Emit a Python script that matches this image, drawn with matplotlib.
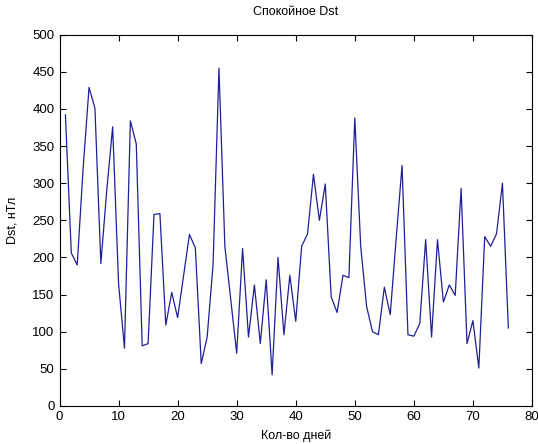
import numpy as np
import matplotlib
matplotlib.use("Agg")
import matplotlib.pyplot as plt

# Номера дней и значения спокойного Dst (нТл)
days = np.arange(1, 77)
dst = [392, 206, 190, 320, 429, 401, 192, 290, 376, 165,
       78, 384, 353, 81, 84, 258, 259, 109, 153, 119,
       175, 231, 213, 57, 93, 190, 455, 215, 143, 71,
       212, 93, 163, 84, 170, 42, 200, 96, 176, 114,
       215, 232, 312, 250, 299, 147, 126, 176, 173, 388,
       215, 134, 100, 96, 160, 123, 225, 324, 96, 94,
       111, 224, 93, 224, 140, 163, 149, 293, 84, 115,
       51, 228, 215, 232, 300, 105]

x_ticks = np.arange(0, 81, 10)
y_ticks = np.arange(0, 501, 50)

plt.rcParams['font.family'] = ['Liberation Sans', 'DejaVu Sans']

fig = plt.figure(figsize=(5.38, 4.44), dpi=100)
ax = fig.add_axes([0.1106, 0.0856, 0.8782, 0.8362])

ax.plot(days, dst, color=(0.12, 0.12, 0.6), linewidth=0.9)

ax.set_xlim(0, 80)
ax.set_ylim(0, 500)
ax.set_xticks(x_ticks)
ax.set_yticks(y_ticks)
ax.tick_params(direction='in', top=True, right=True, labelsize=9.5, length=4, width=0.8)
for s in ax.spines.values():
    s.set_linewidth(0.8)

ax.set_title("Спокойное Dst", fontsize=9, pad=14)
ax.set_xlabel("Кол-во дней", fontsize=9, labelpad=5)
ax.set_ylabel("Dst, нТл", fontsize=9, labelpad=10)

fig.savefig("out.png", dpi=100)
